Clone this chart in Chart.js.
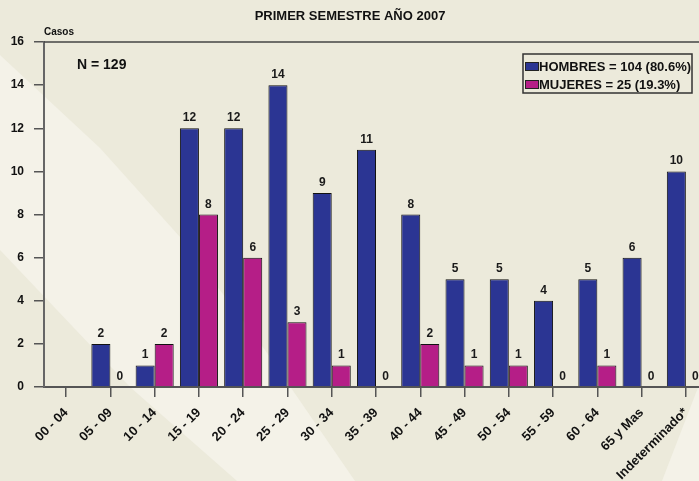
<!DOCTYPE html>
<html>
<head>
<meta charset="utf-8">
<script src="https://cdn.jsdelivr.net/npm/chart.js@4.4.1/dist/chart.umd.min.js"></script>
<style>
  html, body { margin:0; padding:0; overflow:hidden; background:#ECEADB; }
  #wrap { width:699px; height:481px; overflow:hidden; }
  canvas { display:block; }
</style>
</head>
<body>
<div id="wrap"><canvas id="chart" width="712" height="481"></canvas></div>
<script>
// data
var categories = ['00 - 04','05 - 09','10 - 14','15 - 19','20 - 24','25 - 29','30 - 34','35 - 39','40 - 44','45 - 49','50 - 54','55 - 59','60 - 64','65 y Mas','Indeterminado*'];
var hombres = [null,2,1,12,12,14,9,11,8,5,5,4,5,6,10];
var mujeres = [null,0,2,8,6,3,1,0,2,1,1,0,1,0,0];
var seriesLabels = ['HOMBRES = 104 (80.6%)','MUJERES = 25 (19.3%)'];
var titleText = 'PRIMER SEMESTRE AÑO 2007';
var yTitle = 'Casos';
var noteText = 'N = 129';
var yMax = 16, yStep = 2;

var FONT = '"Liberation Sans", Arial, sans-serif';
var BLUE = '#2B3593', PINK = '#B51E87';

var background = {
  id:'background',
  beforeDraw:function(chart){
    var c = chart.ctx, w = chart.width, h = chart.height;
    c.save();
    c.fillStyle = '#ECEADB';
    c.fillRect(0,0,w,h);
    c.fillStyle = '#F4F2E8';
    c.beginPath();
    c.moveTo(0,55); c.lineTo(100,148); c.lineTo(180,237); c.lineTo(265,350);
    c.lineTo(355,481); c.lineTo(237,481); c.lineTo(130,387); c.lineTo(0,250);
    c.closePath(); c.fill();
    c.beginPath();
    c.moveTo(662,481); c.lineTo(699,385); c.lineTo(712,350); c.lineTo(712,481);
    c.closePath(); c.fill();
    c.restore();
  },
  beforeDatasetsDraw:function(chart){
    var c = chart.ctx, a = chart.chartArea;
    c.save();
    c.strokeStyle = '#444'; c.lineWidth = 1.5;
    c.beginPath(); c.moveTo(a.left, a.top); c.lineTo(chart.width, a.top); c.stroke();
    c.restore();
  }
};

var labelsPlugin = {
  id:'barLabels',
  afterDatasetsDraw:function(chart){
    var c = chart.ctx;
    c.save();
    c.font = 'bold 12px ' + FONT;
    c.fillStyle = '#1a1a1a';
    c.textAlign = 'center';
    c.textBaseline = 'alphabetic';
    chart.data.datasets.forEach(function(ds, i){
      var meta = chart.getDatasetMeta(i);
      meta.data.forEach(function(el, j){
        var v = ds.data[j];
        if(v === null || v === undefined) return;
        c.fillText(String(v), el.x, el.y - 7);
      });
    });
    c.restore();
  },
  afterDraw:function(chart){
    var c = chart.ctx, a = chart.chartArea;
    c.save();
    c.fillStyle = '#111';
    c.textBaseline = 'alphabetic';
    c.textAlign = 'center';
    c.font = 'bold 13px ' + FONT;
    c.fillText(titleText, 350, 20);
    c.textAlign = 'left';
    c.font = 'bold 10px ' + FONT;
    c.fillText(yTitle, a.left, 35);
    c.font = 'bold 14px ' + FONT;
    c.fillText(noteText, 77, 69);
    // legend box
    var lx = 523, ly = 54, lw = 169, lh = 39;
    c.strokeStyle = '#333'; c.lineWidth = 1.5;
    c.strokeRect(lx, ly, lw, lh);
    c.font = 'bold 13px ' + FONT;
    chart.data.datasets.forEach(function(ds, i){
      var yy = ly + 8 + i * 18;
      c.fillStyle = ds.backgroundColor;
      c.fillRect(lx + 2, yy, 14, 9);
      c.strokeStyle = '#222'; c.lineWidth = 1;
      c.strokeRect(lx + 2.5, yy + 0.5, 13, 8);
      c.fillStyle = '#111';
      c.fillText(seriesLabels[i], lx + 16, yy + 9);
    });
    c.restore();
  }
};

new Chart(document.getElementById('chart'), {
  type:'bar',
  data:{
    labels:categories,
    datasets:[
      {label:seriesLabels[0], data:hombres, backgroundColor:BLUE, borderColor:'#111', borderWidth:1},
      {label:seriesLabels[1], data:mujeres, backgroundColor:PINK, borderColor:'#111',
       borderWidth:function(ctx){ return ctx.raw === 0 ? 0 : 1; }}
    ]
  },
  options:{
    responsive:false,
    animation:false,
    layout:{padding:{top:42, right:4, left:0, bottom:0}},
    datasets:{bar:{barPercentage:1, categoryPercentage:0.86}},
    plugins:{legend:{display:false}, title:{display:false}, tooltip:{enabled:false}},
    scales:{
      x:{
        offset:true,
        grid:{display:true, drawOnChartArea:false, offset:false, tickLength:10, color:'#555', lineWidth:1.5},
        border:{display:true, color:'#555', width:2},
        ticks:{autoSkip:false, maxRotation:45, minRotation:45, padding:8, color:'#111', font:{family:FONT, size:13, weight:'bold'}},
        afterFit:function(s){ s.height = 94; }
      },
      y:{
        min:0, max:yMax,
        grid:{display:true, drawOnChartArea:false, tickLength:10, color:'#555', lineWidth:1.5},
        border:{display:true, color:'#666', width:2},
        ticks:{stepSize:yStep, padding:10, color:'#111', font:{family:FONT, size:12, weight:'bold'}},
        afterFit:function(s){ s.width = 44; }
      }
    }
  },
  plugins:[background, labelsPlugin]
});
</script>
</body>
</html>
